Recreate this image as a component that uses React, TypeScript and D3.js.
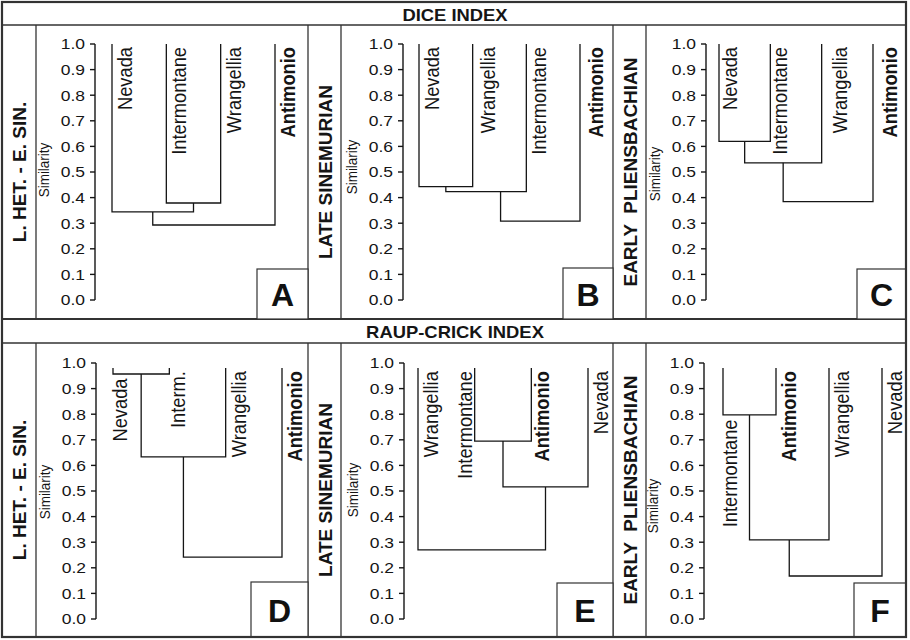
import React from "react";
import * as d3 from "d3";

// ---------------- DATA ----------------
const tickValues = [0, 0.1, 0.2, 0.3, 0.4, 0.5, 0.6, 0.7, 0.8, 0.9, 1.0];
const sectionTitles = ["DICE INDEX", "RAUP-CRICK INDEX"];
const intervalLabels = ["L. HET. - E. SIN.", "LATE SINEMURIAN", "EARLY  PLIENSBACHIAN"];
const panelLetters = ["A", "B", "C", "D", "E", "F"];

// leaves (left to right) and merges [childA, childB, similarity]; index >= n refers to merge (index - n)
const leavesA = ["Nevada", "Intermontane", "Wrangellia", "Antimonio"];
const mergesA: [number, number, number][] = [[1, 2, 0.379], [0, 4, 0.344], [5, 3, 0.293]];
const leavesB = ["Nevada", "Wrangellia", "Intermontane", "Antimonio"];
const mergesB: [number, number, number][] = [[0, 1, 0.443], [4, 2, 0.423], [5, 3, 0.308]];
const leavesC = ["Nevada", "Intermontane", "Wrangellia", "Antimonio"];
const mergesC: [number, number, number][] = [[0, 1, 0.62], [4, 2, 0.536], [5, 3, 0.384]];
const leavesD = ["Nevada", "Interm.", "Wrangellia", "Antimonio"];
const mergesD: [number, number, number][] = [[0, 1, 0.957], [4, 2, 0.633], [5, 3, 0.242]];
const leavesE = ["Wrangellia", "Intermontane", "Antimonio", "Nevada"];
const mergesE: [number, number, number][] = [[1, 2, 0.695], [4, 3, 0.516], [0, 5, 0.27]];
const leavesF = ["Intermontane", "Antimonio", "Wrangellia", "Nevada"];
const mergesF: [number, number, number][] = [[0, 1, 0.797], [4, 2, 0.309], [5, 3, 0.168]];
const leafTopDice = 1.0;
const leafTopRaup = 0.98;
const boldLeaf = "Antimonio";

// ---------------- LAYOUT ----------------
const W = 910, H = 640;
const SX = 1.15; // horizontal text stretch of the reference
const FONT = "'Liberation Sans', Arial, Helvetica, sans-serif";
const INK = "#151515";

type LabelOpt = { dx?: number; below?: boolean };
type PanelCfg = {
  leaves: string[];
  merges: [number, number, number][];
  leafTop: number;
  sideCol: [number, number];
  colRight: number;
  axisX: number;
  leafRange: [number, number];
  yRange: [number, number];
  body: [number, number];
  box: [number, number];
  letter: string;
  interval: string;
  simY: number;
  nodeFrac?: number[];
  labelOpts: Record<string, LabelOpt>;
};

const topBody: [number, number] = [25, 319];
const botBody: [number, number] = [343, 637];
const topY: [number, number] = [300, 44];
const botY: [number, number] = [619, 363];

const panels: PanelCfg[] = [
  { leaves: leavesA, merges: mergesA, leafTop: leafTopDice, sideCol: [2, 36], colRight: 308, axisX: 95, leafRange: [112, 275], yRange: topY, body: topBody, box: [51, 50], letter: panelLetters[0], interval: intervalLabels[0], simY: 170, labelOpts: {} },
  { leaves: leavesB, merges: mergesB, leafTop: leafTopDice, sideCol: [308, 341], colRight: 613, axisX: 403, leafRange: [419, 580], yRange: topY, body: topBody, box: [50, 51], letter: panelLetters[1], interval: intervalLabels[1], simY: 167, nodeFrac: [0.5, 0.68, 0.5], labelOpts: { Wrangellia: { dx: 22 }, Antimonio: { dx: 23 } } },
  { leaves: leavesC, merges: mergesC, leafTop: leafTopDice, sideCol: [613, 646], colRight: 906, axisX: 706, leafRange: [719, 873], yRange: topY, body: topBody, box: [49, 50], letter: panelLetters[2], interval: intervalLabels[2], simY: 174, labelOpts: { Nevada: { dx: 18 }, Intermontane: { dx: 17 }, Wrangellia: { dx: 25 }, Antimonio: { dx: 24 } } },
  { leaves: leavesD, merges: mergesD, leafTop: leafTopRaup, sideCol: [2, 36], colRight: 308, axisX: 96, leafRange: [113, 282], yRange: botY, body: botBody, box: [57, 55], letter: panelLetters[3], interval: intervalLabels[0], simY: 492, labelOpts: { Nevada: { dx: 14, below: true }, "Interm.": { dx: 16 } } },
  { leaves: leavesE, merges: mergesE, leafTop: leafTopRaup, sideCol: [308, 341], colRight: 613, axisX: 404, leafRange: [418, 588], yRange: botY, body: botBody, box: [56, 54], letter: panelLetters[4], interval: intervalLabels[1], simY: 490, labelOpts: { Intermontane: { dx: -3 }, Antimonio: { dx: 18 } } },
  { leaves: leavesF, merges: mergesF, leafTop: leafTopRaup, sideCol: [613, 646], colRight: 906, axisX: 704, leafRange: [723, 882], yRange: botY, body: botBody, box: [52, 54], letter: panelLetters[5], interval: intervalLabels[2], simY: 506, labelOpts: { Intermontane: { dx: 14, below: true } } },
];

function Panel({ cfg }: { cfg: PanelCfg }) {
  const y = d3.scaleLinear().domain([0, 1]).range(cfg.yRange);
  const x = d3.scalePoint<string>().domain(cfg.leaves).range(cfg.leafRange);
  const fmt = d3.format(".1f");
  const n = cfg.leaves.length;
  const nx: number[] = cfg.leaves.map((l) => x(l) as number);
  const nh: number[] = cfg.leaves.map(() => cfg.leafTop);
  const parentH: number[] = [];
  const paths: string[] = [];
  cfg.merges.forEach(([a, b, v], k) => {
    const f = cfg.nodeFrac ? cfg.nodeFrac[k] : 0.5;
    nx[n + k] = nx[a] + (nx[b] - nx[a]) * f;
    nh[n + k] = v;
    parentH[a] = v;
    parentH[b] = v;
    paths.push(`M${nx[a]},${y(nh[a])}V${y(v)}H${nx[b]}V${y(nh[b])}`);
  });
  const [c0, c1] = cfg.sideCol;
  const [b0, b1] = cfg.body;
  const sideCx = (c0 + c1) / 2;
  const sideCy = (b0 + b1) / 2;
  return (
    <g>
      {/* side interval label */}
      <text
        transform={`translate(${sideCx + 7},${sideCy}) rotate(-90)`}
        textAnchor="middle"
        fontFamily={FONT}
        fontWeight="bold"
        fontSize={19}
        fill={INK}
        style={{ whiteSpace: "pre" }}
      >
        {cfg.interval}
      </text>
      {/* Similarity */}
      <text
        transform={`translate(${cfg.axisX - 46},${cfg.simY}) scale(${SX},1) rotate(-90)`}
        textAnchor="middle"
        fontFamily={FONT}
        fontSize={13.5}
        fill={INK}
      >
        Similarity
      </text>
      {/* axis */}
      <line x1={cfg.axisX} x2={cfg.axisX} y1={y(0)} y2={y(1)} stroke={INK} strokeWidth={1.4} />
      {tickValues.map((t) => (
        <g key={t}>
          <line x1={cfg.axisX - 5} x2={cfg.axisX} y1={y(t)} y2={y(t)} stroke={INK} strokeWidth={1.4} />
          <text
            transform={`translate(${cfg.axisX - 10},${y(t) + 5.4}) scale(${SX},1)`}
            textAnchor="end"
            fontFamily={FONT}
            fontSize={15.2}
            fill={INK}
          >
            {fmt(t)}
          </text>
        </g>
      ))}
      {/* dendrogram */}
      {paths.map((d, i) => (
        <path key={i} d={d} fill="none" stroke={INK} strokeWidth={1.3} />
      ))}
      {/* leaf labels */}
      {cfg.leaves.map((l, i) => {
        const opt = cfg.labelOpts[l] || {};
        const dx = opt.dx ?? 20;
        const ty = opt.below ? y(parentH[i]) + 4.5 : y(cfg.leafTop) + 3;
        return (
          <text
            key={l}
            transform={`translate(${nx[i] + dx},${ty}) scale(${SX},1) rotate(-90)`}
            textAnchor="end"
            fontFamily={FONT}
            fontSize={18.3}
            fontWeight={l === boldLeaf ? "bold" : "normal"}
            fill={INK}
          >
            {l}
          </text>
        );
      })}
      {/* letter box */}
      <rect
        x={cfg.colRight - cfg.box[0]}
        y={b1 - cfg.box[1]}
        width={cfg.box[0]}
        height={cfg.box[1]}
        fill="white"
        stroke="#333"
        strokeWidth={1.2}
      />
      <text
        x={cfg.colRight - cfg.box[0] / 2}
        y={b1 - cfg.box[1] / 2 + 12}
        textAnchor="middle"
        fontFamily={FONT}
        fontWeight="bold"
        fontSize={32}
        fill="#111"
      >
        {cfg.letter}
      </text>
    </g>
  );
}

export default function App() {
  const vCols = [36, 308, 341, 613, 646];
  return (
    <svg width={W} height={H} style={{ position: "absolute", left: 0, top: 0, background: "white" }}>
      <rect x={0} y={0} width={W} height={H} fill="white" />
      {/* section headers */}
      <text transform={`translate(455,21) scale(${SX},1)`} textAnchor="middle" fontFamily={FONT} fontWeight="bold" fontSize={16} fill={INK}>
        {sectionTitles[0]}
      </text>
      <text transform={`translate(455,338) scale(${SX},1)`} textAnchor="middle" fontFamily={FONT} fontWeight="bold" fontSize={16} fill={INK}>
        {sectionTitles[1]}
      </text>
      {/* grid lines */}
      <line x1={2} x2={906} y1={25} y2={25} stroke="#333" strokeWidth={1.3} />
      <line x1={2} x2={906} y1={319} y2={319} stroke="#333" strokeWidth={2} />
      <line x1={2} x2={906} y1={343} y2={343} stroke="#333" strokeWidth={1.3} />
      {vCols.map((c) => (
        <g key={c}>
          <line x1={c} x2={c} y1={25} y2={319} stroke="#333" strokeWidth={1.3} />
          <line x1={c} x2={c} y1={343} y2={637} stroke="#333" strokeWidth={1.3} />
        </g>
      ))}
      {panels.map((p, i) => (
        <Panel key={i} cfg={p} />
      ))}
      <rect x={2} y={2} width={904} height={635} fill="none" stroke="#333" strokeWidth={2.2} />
    </svg>
  );
}
